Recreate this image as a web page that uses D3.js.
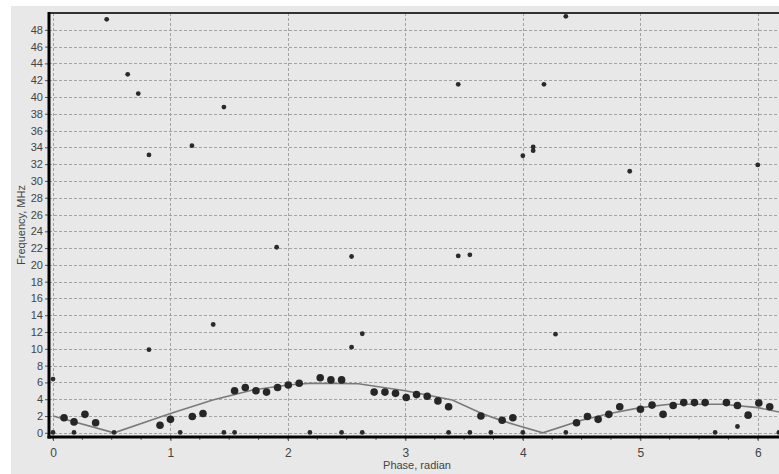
<!DOCTYPE html>
<html>
<head>
<meta charset="utf-8">
<script src="https://cdn.jsdelivr.net/npm/d3@7"></script>
<style>
  body { margin: 0; background: #fff; }
  text { font-family: "Liberation Sans", Arial, sans-serif; }
</style>
</head>
<body>
<script>
// Datos
const ticksX = [0, 1, 2, 3, 4, 5, 6];
const ticksY = [0, 2, 4, 6, 8, 10, 12, 14, 16, 18, 20, 22, 24, 26, 28, 30, 32, 34, 36, 38, 40, 42, 44, 46, 48];

// curva ajustada
const curvaX = [0, 0.52, 1.0, 1.36, 1.7, 2.0, 2.2, 2.6, 3.0, 3.4, 3.65, 3.82, 3.97, 4.17, 4.5, 4.74, 5.0, 5.25, 5.7, 6.0, 6.28];
const curvaY = [2.0, 0.0, 2.3, 3.9, 5.1, 5.7, 5.9, 5.85, 5.0, 3.9, 2.3, 1.45, 0.8, 0.0, 1.5, 2.3, 3.0, 3.4, 3.4, 3.0, 2.2];

// puntos grandes
const grandesX = [0.094, 0.179, 0.272, 0.363, 0.911, 1.0, 1.186, 1.277, 1.546, 1.637, 1.728, 1.818, 1.912, 2.003, 2.096, 2.275, 2.366, 2.457, 2.734, 2.826, 2.916, 3.007, 3.095, 3.186, 3.277, 3.368, 3.643, 3.824, 3.915, 4.457, 4.55, 4.641, 4.732, 4.825, 5.001, 5.1, 5.194, 5.28, 5.37, 5.461, 5.552, 5.733, 5.827, 5.918, 6.009, 6.102];
const grandesY = [1.8, 1.3, 2.2, 1.2, 0.9, 1.6, 1.95, 2.3, 5.0, 5.4, 5.0, 4.85, 5.4, 5.7, 5.9, 6.55, 6.3, 6.3, 4.85, 4.85, 4.7, 4.2, 4.55, 4.35, 3.8, 3.1, 2.0, 1.5, 1.8, 1.2, 1.95, 1.6, 2.2, 3.1, 2.8, 3.3, 2.2, 3.25, 3.6, 3.6, 3.6, 3.6, 3.25, 2.1, 3.55, 3.1];

// puntos pequenos
const pequenosX = [0, 0.179, 0.52, 1.083, 1.455, 1.546, 2.187, 2.457, 2.633, 3.368, 3.549, 3.728, 4.0, 4.366, 5.637, 6.18, 5.827,
  0, 0.457, 0.636, 0.726, 0.817, 0.817, 1.183, 1.364, 1.455, 1.904, 2.542, 2.542, 2.633, 3.45, 3.45, 3.549, 4.0, 4.088, 4.088, 4.18, 4.278, 4.366, 4.91, 6.0];
const pequenosY = [0.05, 0.05, 0.05, 0.05, 0.05, 0.05, 0.05, 0.05, 0.05, 0.05, 0.05, 0.05, 0.05, 0.05, 0.05, 0.05, 0.75,
  6.4, 49.25, 42.7, 40.4, 33.1, 9.9, 34.2, 12.9, 38.8, 22.1, 21.0, 10.2, 11.8, 41.5, 21.07, 21.2, 33.0, 33.6, 34.05, 41.5, 11.75, 49.6, 31.15, 31.9];

const width = 779;
const height = 474;
const margin = { left: 49, top: 13, bottom: 37 };
const plotRight = 791;

const svg = d3.select("body")
    .append("svg")
    .attr("width", width)
    .attr("height", height);

// fondo gris del panel
svg.append("rect")
    .attr("x", 11).attr("y", 6)
    .attr("width", width - 11).attr("height", height - 6)
    .attr("fill", "#e8e8e8");

const xScale = d3.scaleLinear()
    .domain([-0.034, 6.283])
    .range([margin.left, plotRight]);

const yScale = d3.scaleLinear()
    .domain([-0.5, 50])
    .range([height - margin.bottom, margin.top]);

// rejilla
const rejilla = svg.append("g")
    .attr("stroke", "#a3a3a3")
    .attr("stroke-width", 1)
    .attr("stroke-dasharray", "3,2");

rejilla.selectAll("line.h")
    .data(ticksY)
    .enter()
    .append("line")
    .attr("x1", margin.left).attr("x2", plotRight)
    .attr("y1", d => Math.round(yScale(d)) + 0.5)
    .attr("y2", d => Math.round(yScale(d)) + 0.5);

rejilla.selectAll("line.v")
    .data(ticksX)
    .enter()
    .append("line")
    .attr("y1", margin.top).attr("y2", height - margin.bottom)
    .attr("x1", d => Math.round(xScale(d)) + 0.5)
    .attr("x2", d => Math.round(xScale(d)) + 0.5);

// curva
const linea = d3.line()
    .x((d, i) => xScale(curvaX[i]))
    .y(d => yScale(d));

svg.append("path")
    .datum(curvaY)
    .attr("d", linea)
    .attr("fill", "none")
    .attr("stroke", "#7a7a7a")
    .attr("stroke-width", 1.6);

// puntos
svg.append("g")
    .selectAll("circle")
    .data(pequenosX)
    .enter()
    .append("circle")
    .attr("cx", d => xScale(d))
    .attr("cy", (d, i) => yScale(pequenosY[i]))
    .attr("r", 2.4)
    .attr("fill", "#2a2a2a");

svg.append("g")
    .selectAll("circle")
    .data(grandesX)
    .enter()
    .append("circle")
    .attr("cx", d => xScale(d))
    .attr("cy", (d, i) => yScale(grandesY[i]))
    .attr("r", 3.8)
    .attr("fill", "#262626");

// ejes
const ejeX = d3.axisBottom(xScale)
    .tickValues(ticksX)
    .tickSize(4)
    .tickFormat(d3.format("d"));

const gx = svg.append("g")
    .attr("transform", "translate(0," + (height - margin.bottom) + ")")
    .call(ejeX);
gx.select(".domain").remove();
gx.selectAll("line").attr("stroke", "#555");
gx.selectAll("text")
    .attr("fill", "#444")
    .attr("font-size", 12)
    .attr("dy", "1.1em");

// marcas menores cada 0.25
svg.append("g")
    .selectAll("line")
    .data(d3.range(0, 25).map(i => i * 0.25))
    .enter()
    .append("line")
    .attr("x1", d => xScale(d)).attr("x2", d => xScale(d))
    .attr("y1", height - margin.bottom).attr("y2", height - margin.bottom + 3)
    .attr("stroke", "#666");

const ejeY = d3.axisLeft(yScale)
    .tickValues(ticksY)
    .tickSize(4);

const gy = svg.append("g")
    .attr("transform", "translate(" + margin.left + ",0)")
    .call(ejeY);
gy.select(".domain").remove();
gy.selectAll("line").attr("stroke", "#555");
gy.selectAll("text")
    .attr("fill", "#444")
    .attr("font-size", 11)
    .attr("x", -6);

// marco
svg.append("line")
    .attr("x1", margin.left).attr("x2", width)
    .attr("y1", margin.top).attr("y2", margin.top)
    .attr("stroke", "#333").attr("stroke-width", 2);
svg.append("line")
    .attr("x1", margin.left).attr("x2", margin.left)
    .attr("y1", margin.top - 1).attr("y2", height - margin.bottom + 1.5)
    .attr("stroke", "#000").attr("stroke-width", 3);
svg.append("line")
    .attr("x1", margin.left - 1.5).attr("x2", width)
    .attr("y1", height - margin.bottom).attr("y2", height - margin.bottom)
    .attr("stroke", "#000").attr("stroke-width", 3);

// titulos
svg.append("text")
    .attr("x", (margin.left + plotRight) / 2 - 3)
    .attr("y", 469)
    .attr("text-anchor", "middle")
    .attr("font-size", 11)
    .attr("fill", "#444")
    .text("Phase, radian");

svg.append("text")
    .attr("transform", "translate(25," + ((margin.top + height - margin.bottom) / 2) + ") rotate(-90)")
    .attr("text-anchor", "middle")
    .attr("font-size", 11)
    .attr("fill", "#444")
    .text("Frequency, MHz");
</script>
</body>
</html>
